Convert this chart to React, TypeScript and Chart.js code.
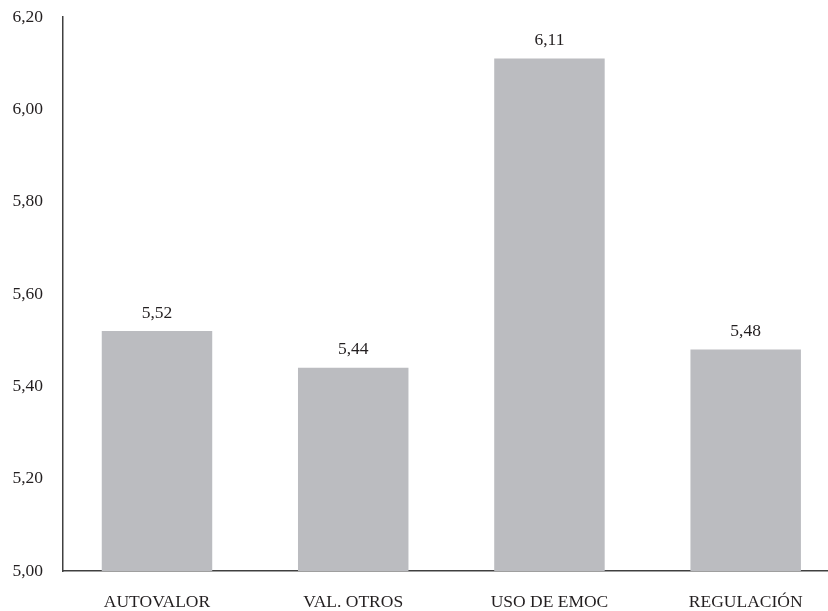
import React, { useEffect, useRef } from "react";
import { Chart, registerables } from "chart.js";

Chart.register(...registerables);

const categories = ["AUTOVALOR", "VAL. OTROS", "USO DE EMOC", "REGULACIÓN"];
const values = [5.52, 5.44, 6.11, 5.48];
const yMin = 5.0;
const yMax = 6.2;
const yStep = 0.2;

const FONT = '"Liberation Serif", "Times New Roman", serif';
const TEXT = "#231f20";
const fmt = (v: number) => v.toFixed(2).replace(".", ",");

const labelPlugin = {
  id: "barLabels",
  afterDatasetsDraw(chart: any) {
    const ctx = chart.ctx;
    const meta = chart.getDatasetMeta(0);
    ctx.save();
    ctx.font = `17.5px ${FONT}`;
    ctx.fillStyle = TEXT;
    ctx.textAlign = "center";
    ctx.textBaseline = "middle";
    meta.data.forEach((el: any, i: number) => {
      ctx.fillText(fmt(values[i]), el.x, el.y - 18);
    });
    ctx.restore();
  },
};

export default function App() {
  const ref = useRef<HTMLCanvasElement>(null);
  useEffect(() => {
    if (!ref.current) return;
    const chart = new Chart(ref.current, {
      type: "bar",
      data: {
        datasets: [
          {
            data: values.map((v, i) => ({ x: i, y: v })),
            backgroundColor: "#bbbcc0",
            borderWidth: 0,
            barPercentage: 0.563,
            categoryPercentage: 1,
          },
        ],
      },
      options: {
        responsive: false,
        animation: false,
        layout: { padding: { top: 17, left: 0, right: 0, bottom: 0 } },
        plugins: { legend: { display: false }, tooltip: { enabled: false } },
        scales: {
          x: {
            type: "linear",
            offset: false,
            min: -0.479,
            max: 3.4195,
            grid: { display: false, drawTicks: false, offset: false },
            border: { display: true, color: "#404040", width: 1.5 },
            afterBuildTicks: (scale: any) => {
              scale.ticks = categories.map((_, i) => ({ value: i }));
            },
            afterFit: (scale: any) => {
              scale.height = 40;
              scale.paddingLeft = 0;
              scale.paddingRight = 0;
            },
            ticks: {
              autoSkip: false,
              maxRotation: 0,
              padding: 21,
              color: TEXT,
              font: { family: FONT, size: 17.5 },
              callback: (v: any) => categories[v] ?? "",
            },
          },
          y: {
            min: yMin,
            max: yMax,
            grid: { display: false, drawTicks: false },
            border: { display: true, color: "#404040", width: 1.5 },
            afterFit: (scale: any) => {
              scale.width = 63;
              scale.paddingTop = 0;
              scale.paddingBottom = 0;
            },
            ticks: {
              stepSize: yStep,
              padding: 20,
              color: TEXT,
              font: { family: FONT, size: 17.5 },
              callback: (v: any) => fmt(Number(v)),
            },
          },
        },
      },
      plugins: [labelPlugin],
    });
    return () => chart.destroy();
  }, []);
  return (
    <div style={{ position: "absolute", left: 0, top: 0, width: 828, height: 611, background: "#fff" }}>
      <canvas ref={ref} width={828} height={611} style={{ display: "block" }} />
    </div>
  );
}
